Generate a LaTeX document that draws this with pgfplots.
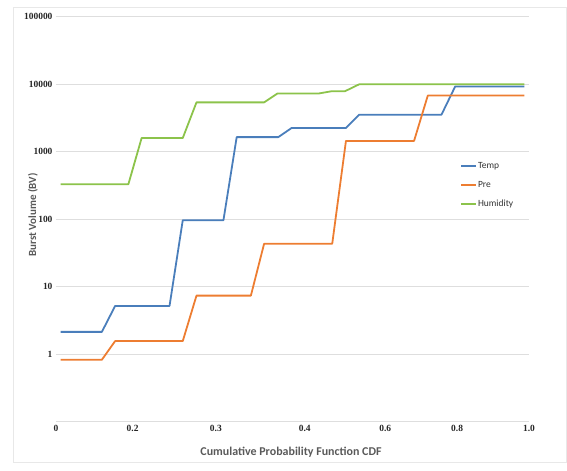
\documentclass[border=0pt]{standalone}
\usepackage{fontspec}
\setmainfont{Liberation Serif}
\newfontfamily\calibri{Carlito}
\usepackage{pgfplots}
\pgfplotsset{compat=1.18}
\definecolor{cTemp}{RGB}{74,126,187}
\definecolor{cPre}{RGB}{237,125,49}
\definecolor{cHum}{RGB}{140,195,75}
\definecolor{gridc}{RGB}{222,222,222}
\definecolor{framec}{RGB}{232,232,232}
\definecolor{labc}{RGB}{89,89,89}
\begin{document}
\begin{tikzpicture}[x=1bp,y=1bp]
\useasboundingbox (-56,-49.2) rectangle (511,421.8);
\draw[draw=framec, line width=0.8bp] (-43,414.8) rectangle (510,-40.2);
\begin{axis}[
  at={(0,0)}, anchor=south west,
  scale only axis, width=473bp, height=405bp,
  ymode=log, ymin=0.1, ymax=100000,
  xmin=0, xmax=1,
  ytick={1,10,100,1000,10000,100000},
  yticklabels={1,10,100,1000,10000,100000},
  xtick={0,0.162,0.338,0.526,0.696,0.848,1},
  xticklabels={0,0.2,0.3,0.4,0.6,0.8,1.0},
  /pgf/number format/assume math mode=true,
  tick label style={font=\fontsize{9.5}{11}\selectfont\bfseries, text=black!85},
  major tick length=0pt, minor tick length=0pt,
  tick style={draw=none},
  ymajorgrids, grid style={draw=gridc, line width=0.8bp},
  separate axis lines,
  axis x line*=bottom,
  x axis line style={draw=gridc, line width=0.8bp, -},
  y axis line style={draw=none},
  legend style={at={(axis description cs:0.854,0.643)}, anchor=north west,
    draw=none, fill=none, inner sep=0pt, row sep=9bp,
    font=\calibri\fontsize{9.5}{10}\selectfont, text=black!80,
    nodes={inner sep=1bp}},
  legend cell align=left,
  legend image code/.code={\draw[#1, line width=1.9pt] (0bp,0bp) -- (15bp,0bp);},
  every axis plot/.append style={line width=1.8pt, line join=round},
]
\addplot[cTemp] coordinates {
  (0.01,2.15) (0.097,2.15) (0.125,5.2) (0.240,5.2) (0.268,97) (0.354,97)
  (0.382,1650) (0.470,1650) (0.498,2250) (0.613,2250) (0.641,3550)
  (0.815,3550) (0.844,9300) (0.99,9300)};
\addlegendentry{Temp}
\addplot[cPre] coordinates {
  (0.01,0.83) (0.097,0.83) (0.125,1.57) (0.268,1.57) (0.297,7.4) (0.412,7.4)
  (0.440,43.5) (0.584,43.5) (0.613,1450) (0.757,1450) (0.786,6800) (0.99,6800)};
\addlegendentry{Pre}
\addplot[cHum] coordinates {
  (0.01,330) (0.153,330) (0.181,1600) (0.268,1600) (0.297,5400) (0.440,5400)
  (0.468,7300) (0.555,7300) (0.583,7900) (0.611,7900) (0.641,10000) (0.99,10000)};
\addlegendentry{Humidity}
\end{axis}
\node[rotate=90, font=\calibri\bfseries\fontsize{11}{13}\selectfont, text=labc] at (-23,206.8) {Burst Volume (BV)};
\node[font=\calibri\bfseries\fontsize{12}{14}\selectfont, text=labc] at (235,-30.9) {Cumulative Probability Function CDF};
\end{tikzpicture}
\end{document}
